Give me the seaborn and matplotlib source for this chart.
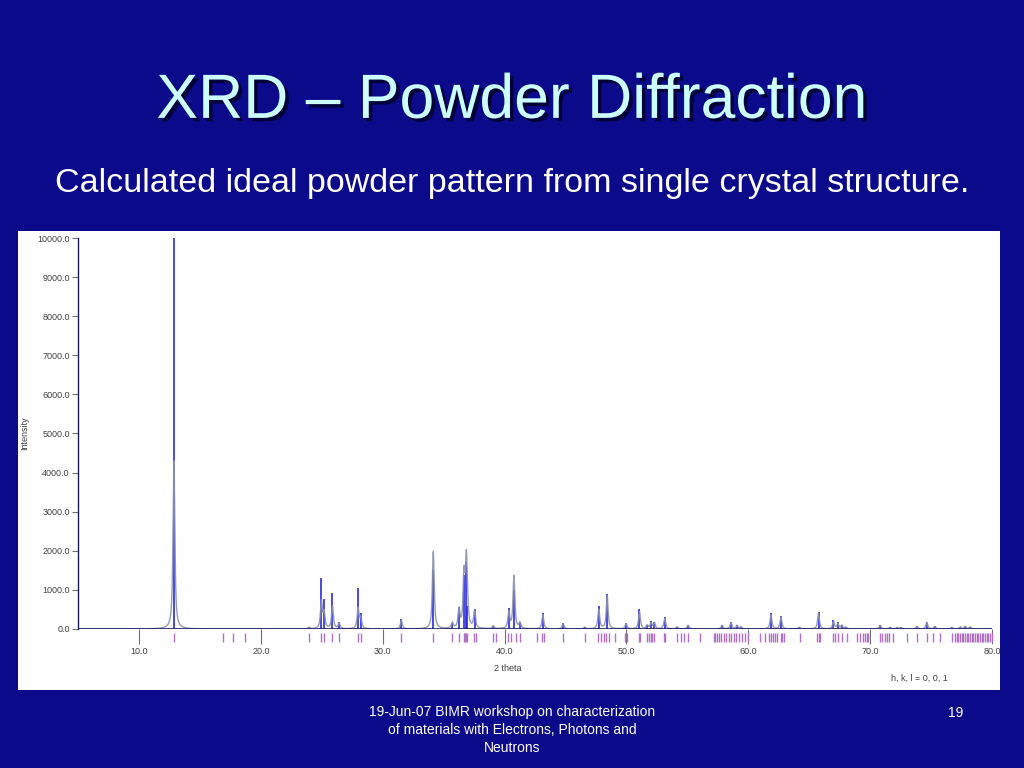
import numpy as np
import pandas as pd
import matplotlib
matplotlib.use("Agg")
import matplotlib.pyplot as plt
import matplotlib.patheffects as pe
from matplotlib.patches import Rectangle
import seaborn as sns

# Peak list (2 theta, stick height, profile height)
peak_pos = [12.87, 23.96, 24.97, 25.19, 25.88, 26.42, 27.98, 28.20, 31.53, 34.15,
            35.71, 36.26, 36.67, 36.86, 36.94, 37.54, 39.07, 40.35, 40.77, 41.26,
            43.14, 44.81, 46.58, 47.73, 48.42, 49.97, 51.07, 51.70, 52.02, 52.30,
            53.14, 54.15, 55.06, 57.84, 58.58, 59.07, 59.40, 61.86, 62.68, 64.20,
            65.76, 66.99, 67.35, 67.68, 68.00, 70.82, 71.64, 72.20, 72.50, 73.83,
            74.65, 75.30, 76.70, 77.40, 77.80, 78.20]
stick_h = [10000, 40, 1310, 760, 910, 190, 1060, 400, 250, 1510,
           160, 570, 1380, 1720, 600, 500, 85, 530, 1000, 180,
           400, 150, 50, 580, 895, 150, 500, 100, 200, 180,
           300, 60, 100, 100, 180, 100, 60, 400, 330, 50,
           440, 230, 170, 100, 50, 100, 50, 40, 40, 70,
           190, 70, 50, 60, 70, 60]
profile_h = [4300, 40, 700, 400, 580, 140, 520, 280, 220, 1980,
             140, 470, 1300, 1600, 350, 450, 75, 420, 1350, 140,
             360, 130, 45, 500, 840, 130, 440, 90, 150, 150,
             270, 55, 95, 95, 160, 90, 55, 360, 300, 45,
             400, 190, 130, 90, 45, 90, 45, 35, 35, 65,
             170, 65, 45, 55, 65, 55]

# Reflection markers (h,k,l positions) below the baseline
reflections = [12.87, 16.89, 17.70, 18.69, 23.96, 24.97, 25.19, 25.88, 26.42, 27.98,
               28.20, 31.53, 34.15, 35.71, 36.26, 36.67, 36.76, 36.86, 36.94, 37.49,
               37.68, 39.07, 39.26, 40.30, 40.49, 40.90, 41.26, 42.62, 43.09, 43.22,
               44.81, 46.58, 47.68, 47.95, 48.14, 48.36, 48.55, 49.04, 49.92, 50.06,
               51.07, 51.15, 51.70, 51.84, 52.02, 52.10, 52.30, 53.06, 53.20, 54.15,
               54.48, 54.70, 55.05, 56.07, 57.16, 57.30, 57.43, 57.62, 57.79, 57.98,
               58.20, 58.39, 58.58, 58.80, 59.02, 59.21, 59.48, 59.75, 59.94, 60.98,
               61.39, 61.67, 61.86, 62.00, 62.21, 62.35, 62.68, 62.76, 62.90, 64.21,
               65.63, 65.76, 65.90, 66.94, 67.13, 67.40, 67.68, 68.09, 68.91, 69.18,
               69.40, 69.59, 69.73, 69.86, 70.82, 71.01, 71.23, 71.42, 71.58, 71.91,
               73.00, 73.83, 74.65, 75.19, 75.74, 76.69, 76.97, 77.10, 77.24, 77.38,
               77.51, 77.65, 77.79, 77.92, 78.06, 78.20, 78.34, 78.47, 78.60, 78.75,
               78.88, 79.02, 79.15, 79.29, 79.43, 79.56, 79.70, 79.84, 79.97]

x_ticks = [10, 20, 30, 40, 50, 60, 70, 80]
y_ticks = [0, 1000, 2000, 3000, 4000, 5000, 6000, 7000, 8000, 9000, 10000]

# Broadened profile built from the peak list (pseudo-Voigt)
tt = np.linspace(5, 80, 15001)
hw = 0.09
prof = np.zeros_like(tt)
for p, h in zip(peak_pos, profile_h):
    u = (tt - p) / hw
    prof += h * (0.85 / (1 + u ** 2) + 0.15 * np.exp(-np.log(2) * u ** 2))
df = pd.DataFrame({"two_theta": tt, "intensity": prof})

sns.set_style("white")
plt.rcParams["font.family"] = ["Liberation Sans", "DejaVu Sans"]

fig = plt.figure(figsize=(10.24, 7.68), dpi=100)
fig.patch.set_facecolor("#0a0a8a")

# white panel behind the chart
fig.patches.append(Rectangle((0.0176, 0.1016), 0.959, 0.5976, transform=fig.transFigure,
                             facecolor="white", edgecolor="none", zorder=-1))

ax = fig.add_axes([0.0762, 0.181, 0.8926, 0.5091])
ax.set_zorder(2)
ax.set_facecolor("white")

ax.vlines(peak_pos, 0, stick_h, color="#2a2ae0", lw=1.2, zorder=2)
sns.lineplot(data=df, x="two_theta", y="intensity", ax=ax, color="#8a90b0",
             lw=1.0, alpha=0.9, zorder=3)
ax.plot([5, 80], [0, 0], color="#1c1c5a", lw=1.2, zorder=4)
ax.vlines(reflections, -330, -100, color="#b070c8", lw=1.0, clip_on=False, zorder=2)

ax.set_xlim(5, 80)
ax.set_ylim(0, 10000)
ax.set_xticks(x_ticks)
ax.set_xticklabels([f"{v:.1f}" for v in x_ticks])
ax.set_yticks(y_ticks)
ax.set_yticklabels([f"{v:.1f}" for v in y_ticks])
ax.tick_params(axis="x", direction="out", length=11, width=0.8, color="#707070",
               labelsize=6.5, labelcolor="#404040", bottom=True, pad=2)
ax.tick_params(axis="y", direction="out", length=4, width=0.8, color="#707070",
               labelsize=6.5, labelcolor="#404040", left=True, pad=2)
for s in ["top", "right", "bottom"]:
    ax.spines[s].set_visible(False)
ax.spines["left"].set_color("#1c1c5a")
ax.spines["left"].set_linewidth(1.0)

ax.set_xlabel("2 theta", fontsize=6.5, color="#404040", labelpad=4)
ax.xaxis.set_label_coords(0.47, -0.09)
ax.set_ylabel("Intensity", fontsize=6.5, color="#404040", labelpad=6)
ax.text(0.952, -0.125, "h, k, l = 0, 0, 1", transform=ax.transAxes, ha="right",
        va="center", fontsize=6.5, color="#404040")

shadow = [pe.SimplePatchShadow(offset=(2.5, -2.5), shadow_rgbFace="#000030", alpha=0.9), pe.Normal()]
fig.text(0.5, 0.868, "XRD \u2013 Powder Diffraction", ha="center", va="center",
         fontsize=45, color="#ccffff", path_effects=shadow)
fig.text(0.5, 0.761, "Calculated ideal powder pattern from single crystal structure.",
         ha="center", va="center", fontsize=24.5, color="white")

fig.text(0.5, 0.0495, "19-Jun-07 BIMR workshop on characterization\nof materials with Electrons, Photons and\nNeutrons",
         ha="center", va="center", fontsize=10, color="white", linespacing=1.35)
fig.text(0.933, 0.072, "19", ha="center", va="center", fontsize=10, color="white")

fig.savefig("out.png", dpi=100, facecolor=fig.get_facecolor())
